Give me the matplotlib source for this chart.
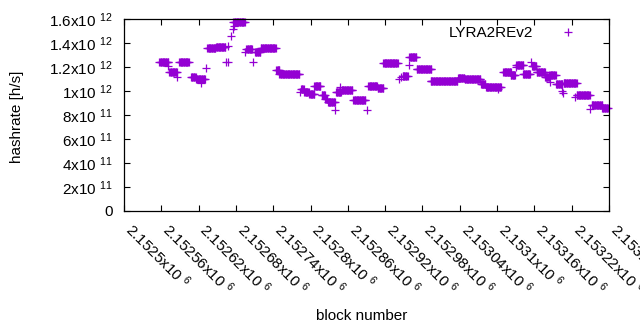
import numpy as np
import matplotlib
matplotlib.use("Agg")
import matplotlib.pyplot as plt

plt.rcParams['font.family'] = ['Liberation Sans', 'DejaVu Sans']
plt.rcParams['mathtext.fontset'] = 'custom'
plt.rcParams['mathtext.rm'] = 'Liberation Sans'
plt.rcParams['mathtext.it'] = 'Liberation Sans'

FS = 11

# runs of blocks with the same hashrate: first block, last block, rate (x1e12 h/s)
run_start = [2152557, 2152573, 2152589, 2152608, 2152616, 2152634, 2152648,
             2152676, 2152697, 2152711, 2152720, 2152745, 2152750, 2152785,
             2152790, 2152798, 2152806, 2152818, 2152824, 2152828, 2152841,
             2152850, 2152869, 2152893, 2152908, 2152917, 2152948, 2152959,
             2152971, 2152994, 2153037, 2153048, 2153074, 2153082, 2153110,
             2153122, 2153131, 2153142, 2153156, 2153164, 2153177, 2153184,
             2153195, 2153207, 2153228, 2153252, 2153269]
run_end = [2152571, 2152585, 2152604, 2152615, 2152630, 2152647, 2152663,
           2152694, 2152706, 2152719, 2152744, 2152750, 2152782, 2152789,
           2152797, 2152806, 2152816, 2152823, 2152827, 2152839, 2152849,
           2152867, 2152888, 2152907, 2152917, 2152940, 2152956, 2152970,
           2152994, 2153036, 2153047, 2153073, 2153081, 2153106, 2153122,
           2153129, 2153142, 2153153, 2153163, 2153177, 2153184, 2153194,
           2153205, 2153228, 2153249, 2153269, 2153278]
run_rate = [1.244, 1.161, 1.240, 1.114, 1.096, 1.356, 1.369,
            1.571, 1.346, 1.328, 1.356, 1.179, 1.139, 1.017,
            0.992, 0.975, 1.039, 0.969, 0.933, 0.908, 0.994,
            1.006, 0.925, 1.038, 1.023, 1.231, 1.128, 1.281,
            1.181, 1.081, 1.106, 1.098, 1.056, 1.036, 1.156,
            1.133, 1.213, 1.138, 1.208, 1.161, 1.119, 1.133,
            1.056, 1.064, 0.967, 0.883, 0.856]

# single blocks off the runs
pt_block = [2152571, 2152585, 2152624, 2152632, 2152664, 2152667, 2152668,
            2152672, 2152675, 2152677, 2152695, 2152708, 2152783, 2152840,
            2152847, 2152890, 2152942, 2152945, 2152958, 2152994, 2153101,
            2153130, 2153154, 2153185, 2153204, 2153206, 2153225, 2153249]
pt_rate = [1.208, 1.114, 1.065, 1.189, 1.242, 1.242, 1.375,
           1.458, 1.513, 1.542, 1.321, 1.244, 0.994, 0.839,
           1.031, 0.842, 1.098, 1.114, 1.217, 1.083, 1.017,
           1.203, 1.244, 1.078, 1.003, 0.981, 0.946, 0.853]

x_ticks = np.arange(2152500, 2153281, 60)
y_ticks = np.arange(0, 1.61e12, 0.2e12)

blocks = np.concatenate([np.arange(s, e + 1) for s, e in zip(run_start, run_end)] + [pt_block])
rates = np.concatenate([np.full(e - s + 1, r) for s, e, r in zip(run_start, run_end, run_rate)] + [pt_rate]) * 1e12


def sci(v):
    if v == 0:
        return '0'
    e = int(np.floor(np.log10(v) + 1e-9))
    m = round(v / 10 ** e, 6)
    return '{:g}x10$\\ ^{{{}}}$'.format(m, e)


fig = plt.figure(figsize=(6.4, 3.3), dpi=100)
ax = fig.add_axes([124 / 640, 1 - 211 / 330, 485 / 640, 192 / 330])

ax.plot(blocks, rates, linestyle='none', marker='+', color='#9400d3',
        markersize=5.2, markeredgewidth=0.9, clip_on=False, label='LYRA2REv2')

ax.set_xlim(2152500, 2153280)
ax.set_ylim(0, 1.6e12)
ax.set_xticks(x_ticks, [sci(v) for v in x_ticks], rotation=-45, ha='left',
              va='baseline', rotation_mode='anchor', fontsize=FS)
ax.set_yticks(y_ticks, [sci(v) for v in y_ticks], fontsize=FS)
ax.tick_params(direction='in', length=4, width=0.8, top=True, right=True,
               colors='black')
ax.tick_params(axis='y', pad=8)
ax.tick_params(axis='x', pad=14)
for sp in ax.spines.values():
    sp.set_linewidth(0.9)

fig.text(17 / 640, 1 - 117 / 330, 'hashrate [h/s]', rotation=90,
         ha='center', va='center', fontsize=FS)
fig.text(362 / 640, 1 - 316 / 330, 'block number', ha='center', va='center',
         fontsize=FS)

ax.legend(loc='upper right', bbox_to_anchor=(583 / 640, 1 - 26 / 330),
          bbox_transform=fig.transFigure, markerfirst=False, frameon=False,
          fontsize=FS, handlelength=2, handletextpad=1.27, borderpad=0,
          borderaxespad=0)

fig.savefig('out.png', dpi=100)
